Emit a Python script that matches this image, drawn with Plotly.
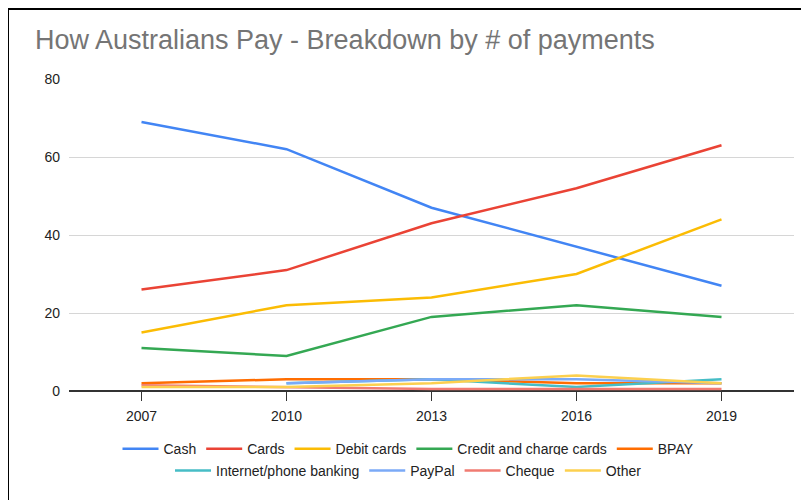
import plotly.graph_objects as go

years = ["2007", "2010", "2013", "2016", "2019"]
cash = [69, 62, 47, 37, 27]
cards = [26, 31, 43, 52, 63]
debit_cards = [15, 22, 24, 30, 44]
credit_cards = [11, 9, 19, 22, 19]
bpay = [2, 3, 3, 2, 2]
internet_banking = [None, 2, 3, 1, 3]
paypal = [None, 2, 3, 3, 2]
cheque = [1.5, 1, 0.5, 0.5, 0.5]
other = [1, 1, 2, 4, 2]

series = [
    ("Cash", cash, "#4285F4", "legend"),
    ("Cards", cards, "#EA4335", "legend"),
    ("Debit cards", debit_cards, "#FBBC04", "legend"),
    ("Credit and charge cards", credit_cards, "#34A853", "legend"),
    ("BPAY", bpay, "#FF6D01", "legend"),
    ("Internet/phone banking", internet_banking, "#46BDC6", "legend2"),
    ("PayPal", paypal, "#7BAAF7", "legend2"),
    ("Cheque", cheque, "#F07B72", "legend2"),
    ("Other", other, "#FCD04F", "legend2"),
]

fig = go.Figure()
for name, vals, color, lg in series:
    fig.add_trace(go.Scatter(x=years, y=vals, name=name, mode="lines",
                             line=dict(color=color, width=2.5), legend=lg))

font = "Liberation Sans, Arial, sans-serif"
W, H = 801, 492
ml, mr, mt, mb = 61, 15, 71, 109
pw, ph = W - ml - mr, H - mt - mb
# frame position in figure pixels -> paper coords
fx0 = (0 - ml) / pw
fx1 = (798 - ml) / pw
fy_top = (H - mb - 1) / ph
fy_bot = (H - mb - H - 5) / ph
legx = (W / 2 - ml) / pw

fig.update_layout(
    width=W, height=H,
    margin=dict(l=ml, r=mr, t=mt, b=mb, autoexpand=False),
    paper_bgcolor="white", plot_bgcolor="white",
    title=dict(text="How Australians Pay - Breakdown by # of payments",
               x=27/W, xanchor="left", y=1-32/H, yanchor="middle",
               font=dict(family=font, size=27, color="#757575")),
    font=dict(family=font, size=14, color="#222222"),
    xaxis=dict(type="category", range=[-0.5, 4.5], showgrid=False,
               ticks="outside", ticklen=9, tickcolor="#333", tickwidth=1,
               tickfont=dict(size=14, color="#222"), showline=False,
               ticklabelstandoff=3),
    yaxis=dict(range=[0, 80], dtick=20, showgrid=True, gridcolor="#d6d6d6",
               zeroline=True, zerolinecolor="#333333", zerolinewidth=1.5,
               tickfont=dict(size=14, color="#222"), ticks="", ticklabelstandoff=8),
    legend=dict(orientation="h", x=legx, xanchor="center",
                y=-0.135, yanchor="top",
                itemwidth=36, font=dict(size=14, color="#222")),
    legend2=dict(orientation="h", x=legx, xanchor="center",
                 y=-0.205, yanchor="top",
                 itemwidth=36, font=dict(size=14, color="#222")),
    shapes=[dict(type="path", xref="paper", yref="paper",
                 path=f"M {fx0},{fy_bot} L {fx0},{fy_top} L {fx1},{fy_top} L {fx1},{fy_bot}",
                 line=dict(color="black", width=2))],
)

fig.write_html("out.html")
